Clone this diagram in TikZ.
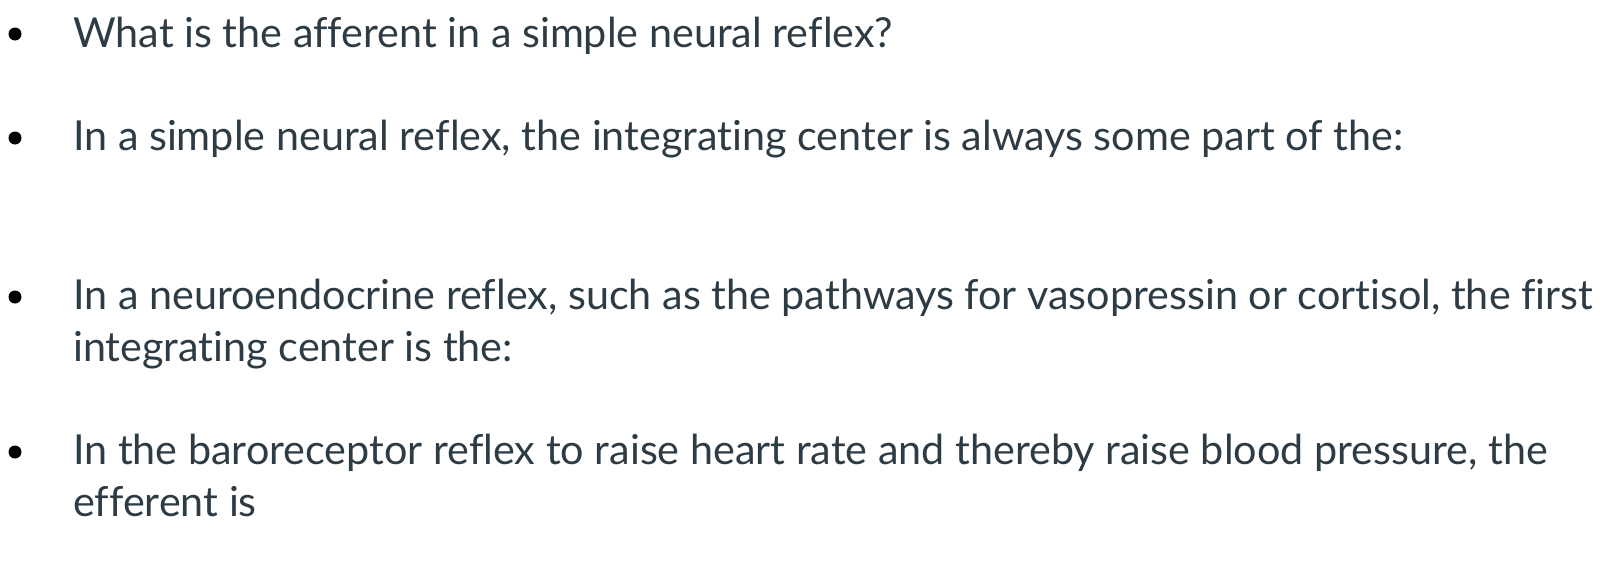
\documentclass[tikz,border=0pt]{standalone}
\usepackage{fontspec}
\setmainfont[Ligatures={NoCommon}]{Lato}
\definecolor{txt}{HTML}{2D3B45}
\tikzset{line/.style={anchor=base west,inner sep=0pt,text=txt,font=\fontsize{41.3}{41.3}\selectfont},
bul/.style={circle,fill=black,inner sep=0pt,minimum size=13pt}}
\begin{document}
\begin{tikzpicture}[x=1pt,y=-1pt]
\useasboundingbox (0,0) rectangle (1612,562);
\node[bul] (b1) at (15,34) {};
\node[line] (t1) at (73,47) {What is the afferent in a simple neural reflex?};
\node[bul] (b2) at (15,138) {};
\node[line] (t2) at (73,150) {In a simple neural reflex, the integrating center is always some part of the:};
\node[bul] (b3) at (15,297) {};
\node[line] (t3) at (73,309) {In a neuroendocrine reflex, such as the pathways for vasopressin or cortisol, the first};
\node[line] (t3b) at (73,361) {integrating center is the:};
\node[bul] (b4) at (15,452) {};
\node[line] (t4) at (73,464) {In the baroreceptor reflex to raise heart rate and thereby raise blood pressure, the};
\node[line] (t4b) at (73,516) {efferent is};
\end{tikzpicture}
\end{document}
